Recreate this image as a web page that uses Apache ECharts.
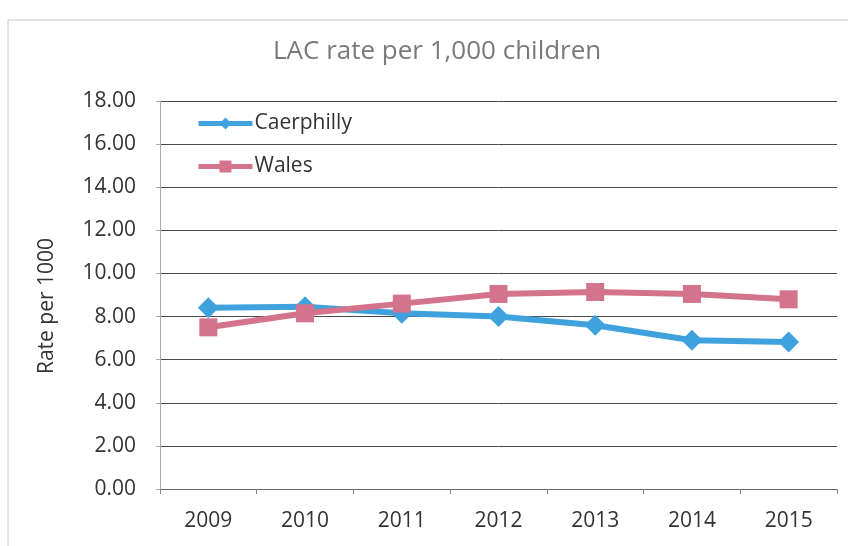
<!DOCTYPE html>
<html><head><meta charset="utf-8">
<script src="https://cdn.jsdelivr.net/npm/echarts@6/dist/echarts.min.js"></script>
<style>html,body{margin:0;padding:0;background:#fff}#c{width:848px;height:546px}</style>
</head><body><div id="c"></div>
<script>
const years = ['2009','2010','2011','2012','2013','2014','2015'];
const caerphilly = [8.41, 8.45, 8.15, 8.0, 7.6, 6.9, 6.82];
const wales = [7.5, 8.15, 8.6, 9.05, 9.14, 9.05, 8.8];
const chart = echarts.init(document.getElementById('c'));
const font = '"Open Sans", "Liberation Sans", sans-serif';
chart.setOption({
  animation: false,
  graphic: [
    {type:'rect', shape:{x:8, y:20, width:850, height:540}, style:{fill:'none', stroke:'#c8c8c8', lineWidth:1}},
    {type:'text', x:47, y:306, rotation:Math.PI/2, style:{text:'Rate per 1000', fontFamily:font, fontSize:21, fill:'#333', align:'center', verticalAlign:'middle'}}
  ],
  title: {text:'LAC rate per 1,000 children', left:268, top:34, textStyle:{fontFamily:font, fontSize:26, fontWeight:'normal', color:'#7a7a7a'}},
  grid: {left:160, right:11, top:101, bottom:57},
  legend: {orient:'vertical', left:191, top:108, itemGap:22, itemWidth:54, itemHeight:15,
    textStyle:{fontFamily:font, fontSize:21, color:'#333', padding:[0,0,0,-3]},
    lineStyle:{width:5},
    data:['Caerphilly','Wales']},
  xAxis: {type:'category', data:years, boundaryGap:true,
    axisLine:{lineStyle:{color:'#666'}}, axisTick:{show:true, length:5, lineStyle:{color:'#888'}},
    axisLabel:{fontFamily:font, fontSize:21, color:'#333', margin:22}},
  yAxis: {type:'value', min:0, max:18, interval:2,
    axisLine:{show:true, lineStyle:{color:'#aaa'}}, axisTick:{show:true, length:4, lineStyle:{color:'#aaa'}},
    axisLabel:{fontFamily:font, fontSize:21, color:'#333', margin:24, formatter:v=>v.toFixed(2)},
    splitLine:{lineStyle:{color:'#4a4a4a', width:1}}},
  series: [
    {name:'Caerphilly', type:'line', data:caerphilly, symbol:'diamond', symbolSize:21,
      lineStyle:{width:6, color:'#3fa2de'}, itemStyle:{color:'#3fa2de'}},
    {name:'Wales', type:'line', data:wales, symbol:'rect', symbolSize:18,
      lineStyle:{width:6, color:'#d4738c'}, itemStyle:{color:'#d4738c'}}
  ]
});
</script></body></html>
